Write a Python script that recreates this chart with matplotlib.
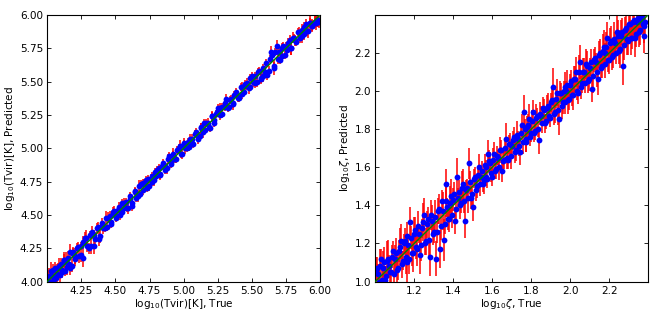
import matplotlib
matplotlib.use("Agg")
import matplotlib.pyplot as plt
import numpy as np

# ---- Left panel: log10(Tvir) ----
tvir_true = [
    4.01, 4.02, 4.03, 4.04, 4.05, 4.06, 4.07, 4.08, 4.09, 4.10,
    4.11, 4.12, 4.13, 4.14, 4.15, 4.16, 4.17, 4.18, 4.19, 4.20,
    4.22, 4.23, 4.25, 4.26, 4.28, 4.29, 4.31, 4.32, 4.34, 4.35,
    4.37, 4.38, 4.40, 4.41, 4.43, 4.44, 4.46, 4.47, 4.49, 4.50,
    4.52, 4.53, 4.55, 4.56, 4.58, 4.59, 4.61, 4.62, 4.64, 4.65,
    4.67, 4.68, 4.70, 4.71, 4.73, 4.74, 4.76, 4.77, 4.79, 4.80,
    4.82, 4.83, 4.85, 4.86, 4.88, 4.89, 4.91, 4.92, 4.94, 4.95,
    4.97, 4.98, 5.00, 5.01, 5.03, 5.04, 5.06, 5.07, 5.09, 5.10,
    5.12, 5.13, 5.15, 5.16, 5.18, 5.19, 5.21, 5.22, 5.24, 5.25,
    5.27, 5.28, 5.30, 5.31, 5.33, 5.34, 5.36, 5.37, 5.39, 5.40,
    5.42, 5.43, 5.45, 5.46, 5.48, 5.49, 5.51, 5.52, 5.54, 5.55,
    5.57, 5.58, 5.60, 5.61, 5.63, 5.64, 5.66, 5.67, 5.69, 5.70,
    5.72, 5.73, 5.75, 5.76, 5.78, 5.79, 5.81, 5.82, 5.84, 5.85,
    5.87, 5.88, 5.90, 5.91, 5.93, 5.94, 5.96, 5.97, 5.98, 5.99,
]
tvir_pred = [
    4.04, 4.00, 4.08, 4.04, 4.02, 4.10, 4.06, 4.10, 4.05, 4.13,
    4.09, 4.16, 4.08, 4.15, 4.18, 4.13, 4.22, 4.12, 4.21, 4.19,
    4.25, 4.19, 4.27, 4.18, 4.33, 4.27, 4.35, 4.27, 4.35, 4.32,
    4.41, 4.32, 4.42, 4.40, 4.48, 4.41, 4.49, 4.45, 4.53, 4.50,
    4.54, 4.50, 4.59, 4.55, 4.60, 4.55, 4.62, 4.57, 4.67, 4.63,
    4.72, 4.66, 4.74, 4.73, 4.70, 4.77, 4.77, 4.75, 4.82, 4.79,
    4.85, 4.81, 4.89, 4.87, 4.85, 4.94, 4.90, 4.94, 4.92, 4.99,
    5.02, 4.96, 5.03, 5.00, 5.05, 5.01, 5.07, 5.03, 5.12, 5.10,
    5.09, 5.15, 5.19, 5.14, 5.19, 5.15, 5.24, 5.21, 5.26, 5.30,
    5.25, 5.31, 5.31, 5.37, 5.31, 5.36, 5.33, 5.40, 5.40, 5.38,
    5.46, 5.41, 5.48, 5.47, 5.45, 5.53, 5.50, 5.54, 5.50, 5.58,
    5.52, 5.60, 5.57, 5.55, 5.67, 5.72, 5.62, 5.72, 5.67, 5.72,
    5.69, 5.77, 5.76, 5.74, 5.81, 5.75, 5.83, 5.81, 5.87, 5.83,
    5.89, 5.86, 5.93, 5.88, 5.94, 5.92, 5.95, 5.94, 5.96, 5.95,
]
tvir_err = [
    .06, .05, .07, .04, .06, .05, .07, .04, .06, .05,
    .05, .06, .04, .07, .05, .04, .06, .05, .04, .06,
    .04, .05, .03, .07, .04, .05, .03, .06, .04, .05,
    .04, .05, .03, .04, .05, .03, .04, .03, .04, .03,
    .03, .04, .03, .04, .03, .04, .03, .04, .03, .03,
    .04, .03, .03, .04, .03, .03, .04, .03, .03, .04,
    .03, .04, .03, .03, .04, .03, .03, .04, .03, .03,
    .04, .03, .03, .04, .03, .03, .04, .03, .03, .03,
    .03, .04, .03, .03, .04, .03, .03, .04, .03, .03,
    .04, .03, .03, .04, .03, .03, .04, .03, .04, .03,
    .03, .04, .03, .03, .04, .03, .04, .03, .04, .03,
    .04, .03, .04, .04, .03, .05, .04, .03, .04, .03,
    .04, .03, .04, .03, .04, .05, .03, .04, .03, .04,
    .04, .05, .04, .05, .04, .05, .04, .05, .05, .05,
]
tvir_true_b = [
    4.005, 4.025, 4.045, 4.065, 4.085, 4.105, 4.125, 4.145, 4.165, 4.185,
    4.205, 4.225, 4.245, 4.265, 4.285, 4.305, 4.325, 4.345, 4.365, 4.385,
    4.405, 4.425, 4.445, 4.465, 4.485, 4.505, 4.525, 4.545, 4.565, 4.585,
    4.605, 4.625, 4.645, 4.665, 4.685, 4.705, 4.725, 4.745, 4.765, 4.785,
    4.805, 4.825, 4.845, 4.865, 4.885, 4.905, 4.925, 4.945, 4.965, 4.985,
    5.005, 5.025, 5.045, 5.065, 5.085, 5.105, 5.125, 5.145, 5.165, 5.185,
    5.205, 5.225, 5.245, 5.265, 5.285, 5.305, 5.325, 5.345, 5.365, 5.385,
    5.405, 5.425, 5.445, 5.465, 5.485, 5.505, 5.525, 5.545, 5.565, 5.585,
    5.605, 5.625, 5.645, 5.665, 5.685, 5.705, 5.725, 5.745, 5.765, 5.785,
    5.805, 5.825, 5.845, 5.865, 5.885, 5.905, 5.925, 5.945, 5.965, 5.985,
]
tvir_pred_b = [
    4.035, 4.000, 4.090, 4.030, 4.120, 4.070, 4.160, 4.110, 4.100, 4.220,
    4.170, 4.260, 4.200, 4.300, 4.330, 4.250, 4.370, 4.270, 4.400, 4.340,
    4.440, 4.400, 4.480, 4.430, 4.520, 4.480, 4.560, 4.520, 4.590, 4.550,
    4.640, 4.590, 4.680, 4.640, 4.730, 4.690, 4.760, 4.720, 4.790, 4.760,
    4.840, 4.800, 4.870, 4.840, 4.920, 4.880, 4.960, 4.920, 5.000, 4.960,
    5.040, 5.000, 5.070, 5.040, 5.110, 5.070, 5.160, 5.120, 5.190, 5.160,
    5.240, 5.190, 5.270, 5.300, 5.260, 5.340, 5.300, 5.370, 5.340, 5.420,
    5.380, 5.460, 5.420, 5.490, 5.460, 5.540, 5.490, 5.570, 5.530, 5.540,
    5.640, 5.580, 5.700, 5.600, 5.770, 5.660, 5.750, 5.700, 5.790, 5.750,
    5.830, 5.800, 5.870, 5.840, 5.910, 5.880, 5.940, 5.920, 5.950, 5.960,
]
tvir_err_b = [
    .05, .06, .04, .05, .06, .04, .05, .06, .05, .04,
    .05, .04, .05, .04, .06, .04, .05, .06, .04, .05,
    .04, .03, .04, .03, .04, .03, .04, .03, .04, .03,
    .03, .04, .03, .04, .03, .04, .03, .04, .03, .04,
    .03, .04, .03, .03, .04, .03, .04, .03, .03, .04,
    .04, .03, .04, .03, .03, .04, .03, .04, .03, .03,
    .04, .03, .03, .04, .03, .04, .03, .03, .04, .03,
    .03, .04, .03, .04, .03, .03, .04, .03, .04, .04,
    .03, .04, .04, .05, .04, .03, .04, .03, .04, .05,
    .04, .03, .04, .05, .04, .04, .05, .04, .05, .05,
]

# ---- Right panel: log10(zeta) ----
zeta_true = [
    1.01, 1.02, 1.03, 1.04, 1.05, 1.06, 1.07, 1.08, 1.09, 1.10,
    1.11, 1.12, 1.13, 1.14, 1.15, 1.16, 1.17, 1.18, 1.19, 1.20,
    1.21, 1.22, 1.23, 1.24, 1.25, 1.26, 1.27, 1.28, 1.29, 1.30,
    1.31, 1.32, 1.33, 1.34, 1.35, 1.36, 1.37, 1.38, 1.39, 1.40,
    1.41, 1.42, 1.43, 1.44, 1.45, 1.46, 1.47, 1.48, 1.49, 1.50,
    1.51, 1.52, 1.53, 1.54, 1.55, 1.56, 1.57, 1.58, 1.59, 1.60,
    1.61, 1.62, 1.63, 1.64, 1.65, 1.66, 1.67, 1.68, 1.69, 1.70,
    1.71, 1.72, 1.73, 1.74, 1.75, 1.76, 1.77, 1.78, 1.79, 1.80,
    1.81, 1.82, 1.83, 1.84, 1.85, 1.86, 1.87, 1.88, 1.89, 1.90,
    1.91, 1.92, 1.93, 1.94, 1.95, 1.96, 1.97, 1.98, 1.99, 2.00,
    2.01, 2.02, 2.03, 2.04, 2.05, 2.06, 2.07, 2.08, 2.09, 2.10,
    2.11, 2.12, 2.13, 2.14, 2.15, 2.16, 2.17, 2.18, 2.19, 2.20,
    2.21, 2.22, 2.23, 2.24, 2.25, 2.26, 2.27, 2.28, 2.29, 2.30,
    2.31, 2.32, 2.33, 2.34, 2.35, 2.36, 2.37, 2.38,
]
zeta_pred = [
    1.07, 1.00, 1.12, 1.07, 1.01, 1.11, 1.08, 1.05, 1.16, 1.12,
    1.06, 1.16, 1.21, 1.11, 1.21, 1.10, 1.19, 1.31, 1.15, 1.25,
    1.18, 1.29, 1.14, 1.28, 1.35, 1.21, 1.33, 1.13, 1.32, 1.26,
    1.12, 1.37, 1.17, 1.42, 1.22, 1.51, 1.39, 1.33, 1.45, 1.43,
    1.32, 1.55, 1.47, 1.41, 1.51, 1.32, 1.49, 1.62, 1.44, 1.39,
    1.55, 1.50, 1.60, 1.55, 1.51, 1.61, 1.55, 1.67, 1.62, 1.55,
    1.67, 1.59, 1.65, 1.69, 1.58, 1.64, 1.75, 1.64, 1.72, 1.71,
    1.76, 1.69, 1.75, 1.68, 1.82, 1.89, 1.73, 1.81, 1.85, 1.78,
    1.89, 1.79, 1.87, 1.74, 1.87, 1.91, 1.83, 1.91, 1.87, 1.94,
    2.02, 1.89, 1.99, 1.85, 1.99, 1.94, 2.02, 2.00, 1.95, 2.03,
    1.98, 2.06, 2.10, 1.99, 2.15, 2.04, 2.10, 2.14, 2.05, 2.12,
    2.01, 2.16, 2.15, 2.06, 2.20, 2.13, 2.23, 2.20, 2.28, 2.16,
    2.26, 2.19, 2.25, 2.31, 2.21, 2.29, 2.13, 2.32, 2.27, 2.35,
    2.28, 2.36, 2.28, 2.36, 2.31, 2.37, 2.35, 2.29,
]
zeta_err = [
    .06, .08, .05, .09, .07, .10, .06, .08, .05, .07,
    .08, .06, .09, .05, .07, .10, .06, .08, .07, .09,
    .06, .08, .10, .05, .09, .07, .06, .10, .08, .06,
    .09, .07, .10, .06, .11, .08, .05, .07, .09, .06,
    .07, .10, .06, .05, .08, .09, .05, .08, .06, .07,
    .05, .06, .07, .05, .04, .06, .05, .07, .06, .05,
    .06, .05, .04, .07, .06, .05, .08, .05, .06, .04,
    .05, .06, .04, .07, .06, .09, .05, .06, .08, .05,
    .06, .05, .04, .07, .05, .06, .05, .07, .04, .05,
    .10, .06, .07, .08, .05, .06, .08, .05, .07, .06,
    .06, .07, .08, .06, .09, .05, .07, .08, .06, .05,
    .07, .06, .05, .08, .07, .06, .09, .05, .08, .07,
    .08, .07, .06, .09, .07, .08, .10, .07, .08, .06,
    .09, .07, .10, .06, .08, .07, .06, .09,
]
zeta_true_b = [
    1.005, 1.015, 1.025, 1.035, 1.045, 1.055, 1.065, 1.075, 1.085, 1.095,
    1.105, 1.115, 1.125, 1.135, 1.145, 1.155, 1.165, 1.175, 1.185, 1.195,
    1.205, 1.215, 1.225, 1.235, 1.245, 1.255, 1.265, 1.275, 1.285, 1.295,
    1.305, 1.315, 1.325, 1.335, 1.345, 1.355, 1.365, 1.375, 1.385, 1.395,
    1.405, 1.415, 1.425, 1.435, 1.445, 1.455, 1.465, 1.475, 1.485, 1.495,
    1.505, 1.515, 1.525, 1.535, 1.545, 1.555, 1.565, 1.575, 1.585, 1.595,
    1.605, 1.615, 1.625, 1.635, 1.645, 1.655, 1.665, 1.675, 1.685, 1.695,
    1.705, 1.715, 1.725, 1.735, 1.745, 1.755, 1.765, 1.775, 1.785, 1.795,
    1.805, 1.815, 1.825, 1.835, 1.845, 1.855, 1.865, 1.875, 1.885, 1.895,
    1.905, 1.915, 1.925, 1.935, 1.945, 1.955, 1.965, 1.975, 1.985, 1.995,
    2.005, 2.015, 2.025, 2.035, 2.045, 2.055, 2.065, 2.075, 2.085, 2.095,
    2.105, 2.115, 2.125, 2.135, 2.145, 2.155, 2.165, 2.175, 2.185, 2.195,
    2.205, 2.215, 2.225, 2.235, 2.245, 2.255, 2.265, 2.275, 2.285, 2.295,
    2.305, 2.315, 2.325, 2.335, 2.345, 2.355, 2.365, 2.375, 2.385,
]
zeta_pred_b = [
    1.060, 1.040, 1.080, 1.010, 1.100, 1.030, 1.120, 1.050, 1.130, 1.040,
    1.150, 1.070, 1.180, 1.090, 1.200, 1.130, 1.240, 1.120, 1.230, 1.150,
    1.270, 1.170, 1.250, 1.190, 1.310, 1.200, 1.300, 1.220, 1.350, 1.250,
    1.340, 1.260, 1.380, 1.290, 1.370, 1.300, 1.420, 1.330, 1.410, 1.350,
    1.460, 1.380, 1.440, 1.400, 1.490, 1.420, 1.480, 1.440, 1.520, 1.460,
    1.540, 1.480, 1.560, 1.510, 1.580, 1.530, 1.600, 1.540, 1.630, 1.570,
    1.640, 1.580, 1.660, 1.600, 1.690, 1.630, 1.700, 1.650, 1.720, 1.660,
    1.740, 1.680, 1.770, 1.710, 1.780, 1.730, 1.800, 1.750, 1.820, 1.760,
    1.840, 1.780, 1.860, 1.800, 1.880, 1.830, 1.900, 1.840, 1.920, 1.860,
    1.950, 1.880, 1.960, 1.900, 1.990, 1.920, 2.000, 1.940, 2.030, 1.960,
    2.050, 1.980, 2.060, 2.000, 2.100, 2.020, 2.100, 2.040, 2.130, 2.060,
    2.150, 2.080, 2.170, 2.100, 2.190, 2.120, 2.210, 2.140, 2.230, 2.160,
    2.250, 2.180, 2.270, 2.200, 2.290, 2.220, 2.310, 2.240, 2.330, 2.260,
    2.350, 2.280, 2.370, 2.300, 2.380, 2.320, 2.390, 2.340, 2.360,
]
zeta_err_b = [
    .07, .05, .09, .06, .08, .05, .10, .07, .06, .09,
    .08, .06, .10, .07, .05, .09, .07, .08, .06, .10,
    .07, .09, .05, .08, .10, .06, .07, .09, .08, .06,
    .09, .06, .08, .07, .10, .05, .08, .06, .09, .07,
    .06, .08, .05, .07, .09, .06, .05, .08, .06, .07,
    .05, .06, .04, .06, .05, .07, .04, .05, .06, .05,
    .06, .04, .05, .07, .05, .06, .04, .06, .05, .07,
    .05, .06, .07, .05, .04, .06, .05, .07, .06, .05,
    .06, .05, .07, .04, .06, .05, .06, .04, .07, .05,
    .07, .06, .05, .08, .06, .07, .05, .06, .08, .06,
    .06, .08, .07, .05, .09, .06, .07, .05, .08, .06,
    .07, .09, .06, .08, .07, .05, .09, .07, .08, .06,
    .08, .07, .09, .06, .08, .10, .07, .08, .09, .07,
    .08, .06, .09, .07, .10, .08, .07, .09, .06,
]

tvir_lim = [4.0, 6.0]
zeta_lim = [1.0, np.log10(250)]
tvir_xticks = [4.25, 4.50, 4.75, 5.00, 5.25, 5.50, 5.75, 6.00]
tvir_yticks = [4.00, 4.25, 4.50, 4.75, 5.00, 5.25, 5.50, 5.75, 6.00]
zeta_xticks = [1.2, 1.4, 1.6, 1.8, 2.0, 2.2]
zeta_yticks = [1.0, 1.2, 1.4, 1.6, 1.8, 2.0, 2.2]

fig = plt.figure(figsize=(6.64, 3.13), dpi=100)
ax1 = fig.add_axes([0.0712, 0.1006, 0.4107, 0.8514])
ax2 = fig.add_axes([0.5652, 0.1006, 0.4107, 0.8514])

fs = 7.5

def panel(ax, xt, yp, err, lim, xticks, yticks, fmt, xlabel, ylabel):
    ax.errorbar(xt, yp, yerr=err, fmt='none', ecolor='red',
                elinewidth=1.1, zorder=2)
    ax.plot(xt, yp, 'o', color='blue', markersize=4.2,
            markeredgewidth=0, zorder=2.5)
    ax.plot(lim, lim, color='green', lw=1.0, zorder=3)
    ax.set_xlim(lim)
    ax.set_ylim(lim)
    ax.set_xticks(xticks)
    ax.set_yticks(yticks)
    ax.set_xticklabels([fmt % v for v in xticks])
    ax.set_yticklabels([fmt % v for v in yticks])
    ax.tick_params(direction='in', top=True, right=True, labelsize=fs,
                   length=3, width=0.6, pad=3)
    ax.set_xlabel(xlabel, fontsize=fs, labelpad=1)
    ax.set_ylabel(ylabel, fontsize=fs, labelpad=2)
    for s in ax.spines.values():
        s.set_linewidth(0.8)

panel(ax1, tvir_true + tvir_true_b, tvir_pred + tvir_pred_b, tvir_err + tvir_err_b,
      tvir_lim, tvir_xticks, tvir_yticks, '%.2f',
      r'log$_{10}$(Tvir)[K], True', r'log$_{10}$(Tvir)[K], Predicted')
panel(ax2, zeta_true + zeta_true_b, zeta_pred + zeta_pred_b, zeta_err + zeta_err_b,
      zeta_lim, zeta_xticks, zeta_yticks, '%.1f',
      r'log$_{10}\zeta$, True', r'log$_{10}\zeta$, Predicted')

fig.savefig('out.png', dpi=100)
